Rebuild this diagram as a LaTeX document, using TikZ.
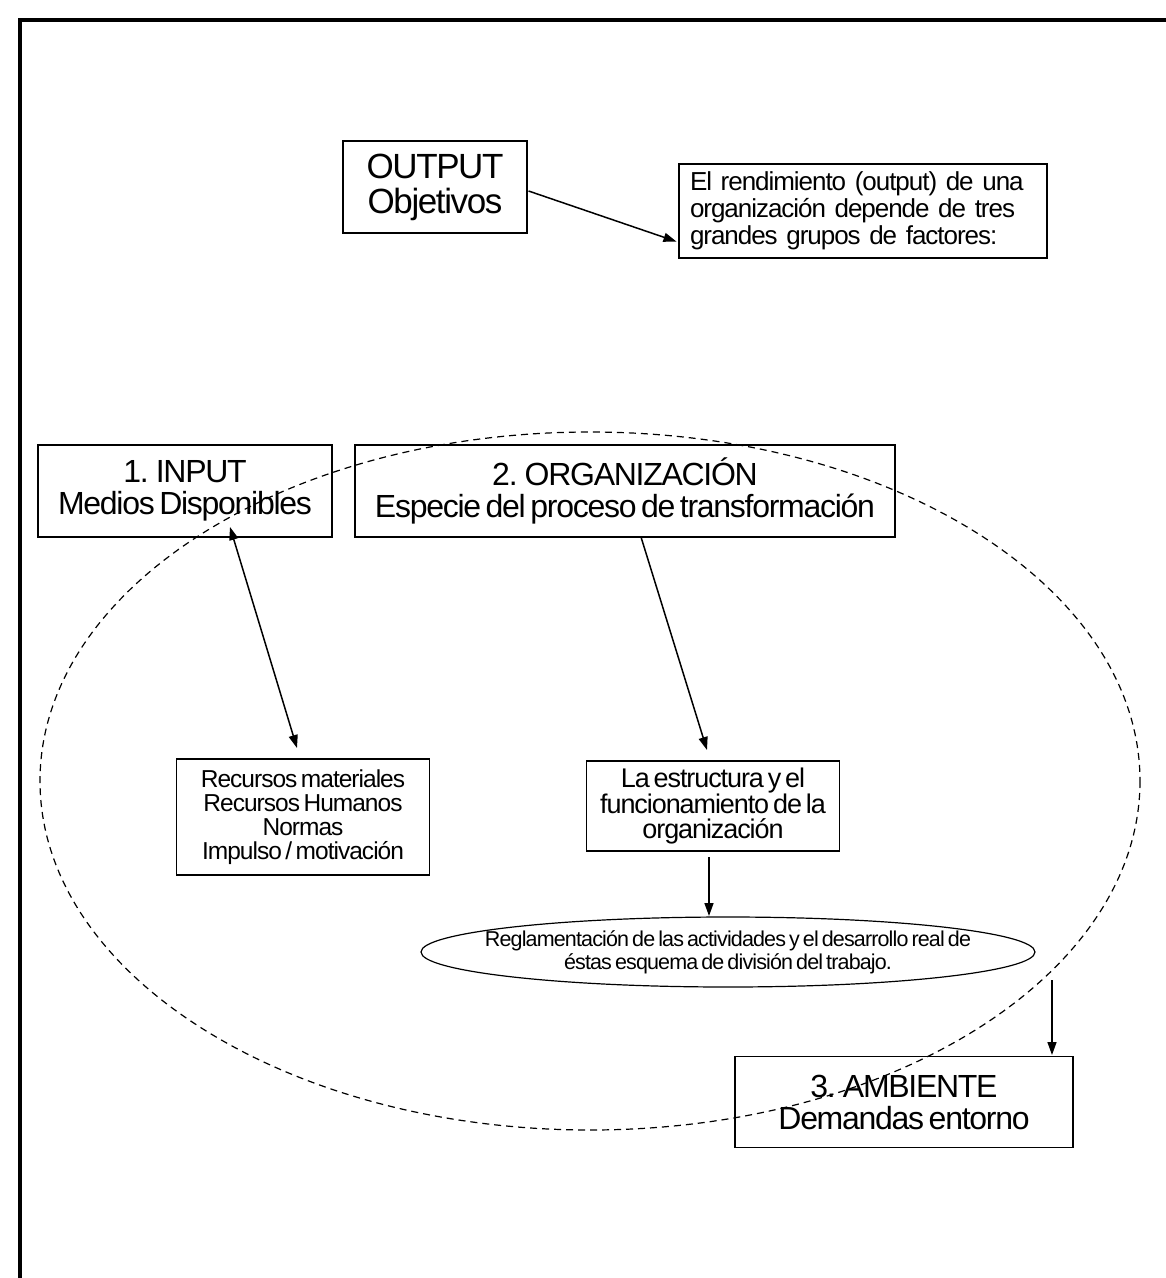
\documentclass[tikz,border=0pt]{standalone}
\usepackage{fontspec}
\setmainfont{Liberation Sans}[LetterSpace=-4, WordSpace=0.6]
\usetikzlibrary{arrows.meta,calc}

\begin{document}
\begin{tikzpicture}[x=1pt,y=-1pt,
  box/.style={draw, line width=1.1pt, rectangle, inner sep=0pt, align=center},
  bigtext/.style={font=\fontsize{32}{32}\selectfont},
  midtext/.style={font=\fontsize{24.5}{24}\selectfont},
  link/.style={line width=1.5pt, -{Triangle[length=13pt,width=9pt]}},
  twolink/.style={line width=1.5pt, {Triangle[length=13pt,width=9pt]}-{Triangle[length=13pt,width=9pt]}},
  halo/.style={line width=1.2pt, dash pattern=on 7pt off 5pt}]

\useasboundingbox (0,0) rectangle (1166,1278);

% page frame (top and left edges)
\draw[line width=4pt] (1166,20) -- (20,20) -- (20,1278);

% environment boundary
\draw[halo] (590,781) ellipse [x radius=550, y radius=349];

% output and its explanation
\node[box, minimum width=184pt, minimum height=92pt,
      font=\fontsize{35}{35}\selectfont] (out) at (435,187) {OUTPUT\\Objetivos};
\node[box, minimum width=368pt, minimum height=94pt, text width=346pt, align=left,
      font=\fontsize{26}{27}\selectfont] (txt) at (863,211)
      {El rendimiento (output) de una\\organización depende de tres\\grandes grupos de factores:};

% the three groups of factors
\node[box, bigtext, minimum width=294pt, minimum height=92pt] (inp) at (185,491)
      {1. INPUT\\Medios Disponibles};
\node[box, bigtext, minimum width=540pt, minimum height=92pt] (org) at (625,491)
      {2. ORGANIZACIÓN\\Especie del proceso de transformación};
\node[box, bigtext, minimum width=338pt, minimum height=91pt] (amb) at (904,1102)
      {3. AMBIENTE\\Demandas entorno};

% details
\node[box, midtext, minimum width=253pt, minimum height=116pt] (rec) at (303,817)
      {Recursos materiales\\Recursos Humanos\\Normas\\Impulso /\ motivación};
\node[box, font=\fontsize{27}{25}\selectfont, minimum width=253pt, minimum height=90pt] (est) at (713,806)
      {La estructura y el\\funcionamiento de la\\organización};
\node[align=center, inner sep=0pt, font=\fontsize{21.5}{23}\selectfont] (reg) at (728,952)
      {Reglamentación de las actividades y el desarrollo real de\\éstas esquema de división del trabajo.};
\draw[line width=1.2pt] (reg.center) ellipse [x radius=307, y radius=35];

% connector end points
\coordinate (outA) at ($(out.east)+(1,4)$);
\coordinate (txtA) at ($(txt.south west)+(-2,-17)$);
\coordinate (inpA) at (230,527);
\coordinate (recA) at (297,748);
\coordinate (orgA) at (641,537);
\coordinate (estA) at (707,750);
\coordinate (estB) at (709,857);
\coordinate (regA) at (709,916);
\coordinate (regB) at (1052,980);
\coordinate (ambA) at (1052,1055);

\draw[link] (outA) -- (txtA);
\draw[twolink] (inpA) -- (recA);
\draw[link] (orgA) -- (estA);
\draw[link] (estB) -- (regA);
\draw[link] (regB) -- (ambA);
\end{tikzpicture}
\end{document}
